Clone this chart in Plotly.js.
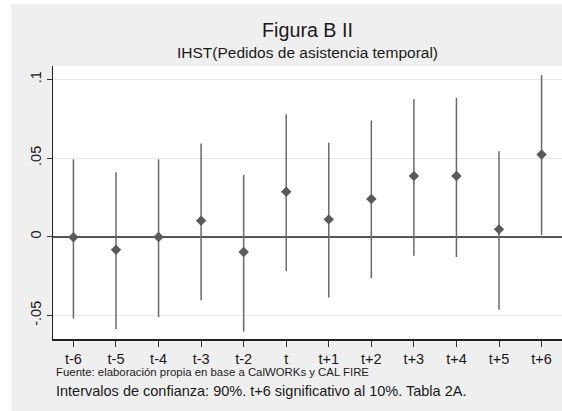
<!DOCTYPE html>
<html>
<head>
<meta charset="utf-8">
<script src="https://cdn.plot.ly/plotly-3.0.1.min.js"></script>
<style>
  html, body { margin: 0; padding: 0; background: #ffffff; width: 562px; height: 411px; overflow: hidden; }
  #chart { position: absolute; left: 11px; top: 4px; width: 551px; height: 407px; }
</style>
</head>
<body>
<div id="chart"></div>
<script>
// Data
const periods = ["t-6", "t-5", "t-4", "t-3", "t-2", "t", "t+1", "t+2", "t+3", "t+4", "t+5", "t+6"];
const estimate = [-0.0003, -0.0083, -0.0002, 0.0102, -0.0097, 0.0286, 0.0110, 0.0240, 0.0386, 0.0386, 0.0047, 0.0523];
const ciHigh   = [0.0492, 0.0409, 0.0492, 0.0593, 0.0394, 0.0778, 0.0597, 0.0739, 0.0875, 0.0883, 0.0544, 0.1027];
const ciLow    = [-0.0519, -0.0586, -0.0510, -0.0404, -0.0603, -0.0220, -0.0387, -0.0264, -0.0121, -0.0129, -0.0464, 0.0011];
const yTickVals = [-0.05, 0, 0.05, 0.1];
const yTickText = ["-.05", "0", ".05", ".1"];

const xIdx = periods.map((_, i) => i);
const errPlus = estimate.map((v, i) => ciHigh[i] - v);
const errMinus = estimate.map((v, i) => v - ciLow[i]);

const FONT = "Liberation Sans, Arial, sans-serif";

const trace = {
  type: "scatter",
  mode: "markers",
  x: xIdx,
  y: estimate,
  marker: { symbol: "diamond", size: 8, color: "#5a5a5a" },
  error_y: {
    type: "data",
    symmetric: false,
    array: errPlus,
    arrayminus: errMinus,
    width: 0,
    thickness: 1.5,
    color: "#6a6a6a"
  },
  hoverinfo: "skip",
  showlegend: false
};

const layout = {
  width: 551,
  height: 407,
  paper_bgcolor: "#efefef",
  plot_bgcolor: "#ffffff",
  margin: { l: 42, r: 0, t: 62, b: 72, pad: 0 },
  font: { family: FONT, size: 14.5, color: "#1a1a1a" },
  title: {
    text: "Figura B II",
    font: { family: FONT, size: 19.7, color: "#1a1a1a" },
    xref: "paper", x: 0.5, xanchor: "center",
    yref: "container", y: 1 - 26 / 407, yanchor: "middle"
  },
  xaxis: {
    range: [-0.48, 11.48],
    tickmode: "array",
    tickvals: xIdx,
    ticktext: periods,
    ticks: "outside",
    ticklen: 6,
    tickwidth: 1,
    tickcolor: "#333",
    showgrid: false,
    zeroline: false,
    showline: true,
    linecolor: "#222",
    linewidth: 1.5,
    tickfont: { family: FONT, size: 14.5, color: "#1a1a1a" },
    fixedrange: true
  },
  yaxis: {
    range: [-0.065, 0.1085],
    tickmode: "array",
    tickvals: yTickVals,
    ticktext: yTickText,
    tickangle: -90,
    ticks: "outside",
    ticklen: 5,
    tickwidth: 1,
    tickcolor: "#333",
    showgrid: true,
    gridcolor: "#e6e6e6",
    gridwidth: 1,
    zeroline: true,
    zerolinecolor: "#555555",
    zerolinewidth: 1.6,
    showline: true,
    linecolor: "#222",
    linewidth: 1.5,
    tickfont: { family: FONT, size: 14.5, color: "#1a1a1a" },
    fixedrange: true
  },
  annotations: [
    {
      text: "IHST(Pedidos de asistencia temporal)",
      xref: "paper", x: 0.5, xanchor: "center",
      yref: "paper", y: (62 - 48.5) / 273 + 1, yanchor: "middle",
      showarrow: false,
      font: { family: FONT, size: 15.5, color: "#1a1a1a" }
    },
    {
      text: "Fuente: elaboración propia en base a CalWORKs y CAL FIRE",
      xref: "paper", x: 0.002, xanchor: "left",
      yref: "paper", y: -0.1198, yanchor: "middle",
      showarrow: false,
      font: { family: FONT, size: 11.4, color: "#1a1a1a" }
    },
    {
      text: "Intervalos de confianza: 90%. t+6 significativo al 10%. Tabla 2A.",
      xref: "paper", x: 0.002, xanchor: "left",
      yref: "paper", y: -0.1894, yanchor: "middle",
      showarrow: false,
      font: { family: FONT, size: 14.5, color: "#1a1a1a" }
    }
  ]
};

Plotly.newPlot("chart", [trace], layout, { displayModeBar: false, staticPlot: true });
</script>
</body>
</html>
